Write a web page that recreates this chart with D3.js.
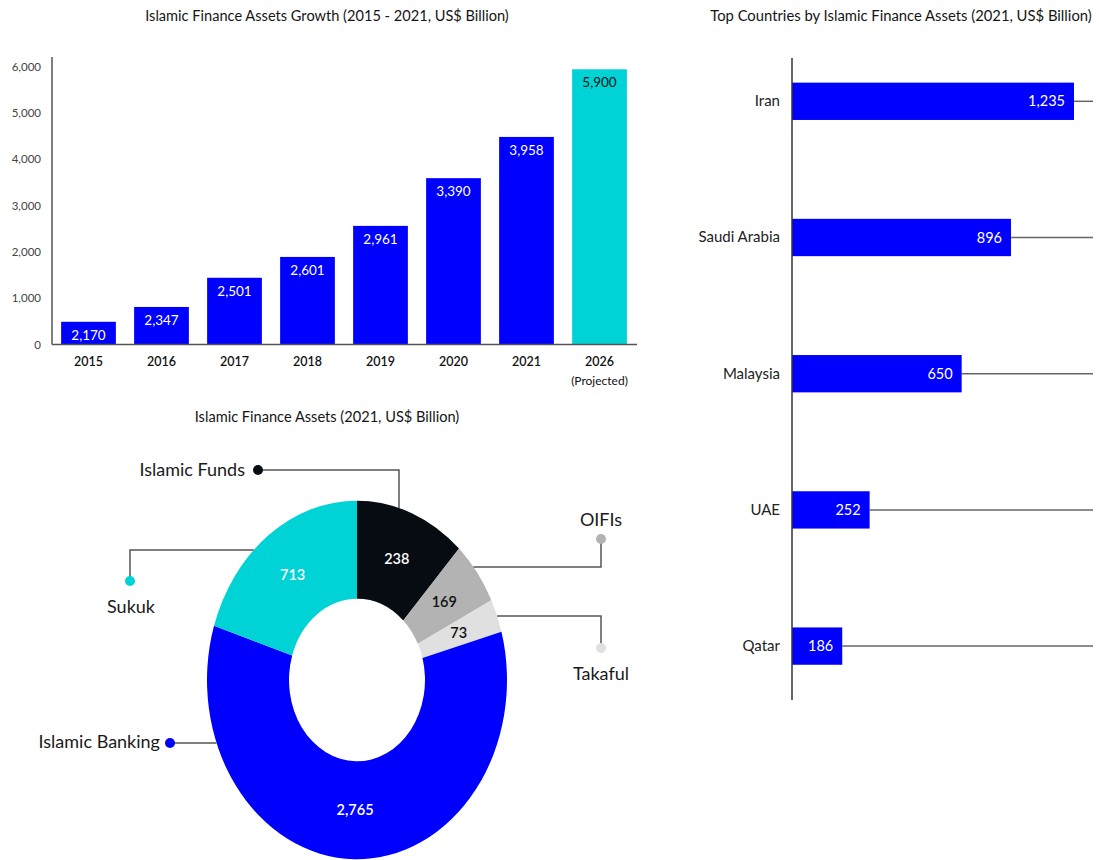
<!DOCTYPE html>
<html>
<head>
<meta charset="utf-8">
<script src="https://cdn.jsdelivr.net/npm/d3@7"></script>
<style>
    body { margin: 0; background: #fff; }
    svg { display: block; font-family: Lato, "Open Sans", sans-serif; }
</style>
</head>
<body>
<div id="frame"></div>
<script>
//growth chart data
let years = ['2015', '2016', '2017', '2018', '2019', '2020', '2021', '2026'];
let growthLabels = [2170, 2347, 2501, 2601, 2961, 3390, 3958, 5900];
// bar heights as they are drawn in the picture
let growthBars = [490, 810, 1440, 1890, 2560, 3590, 4480, 5940];
let yTicks = [0, 1000, 2000, 3000, 4000, 5000, 6000];

//donut data
let segments = ['Islamic Funds', 'OIFIs', 'Takaful', 'Islamic Banking', 'Sukuk'];
let segmentLabels = [238, 169, 73, 2765, 713];
// share of the ring (%) as drawn
let segmentShares = [11.9, 5.75, 3.0, 59.2, 20.1];
let segmentColors = ['#070b12', '#b3b3b3', '#e0e0e0', '#0000ff', '#00d3d6'];

//countries data
let countries = ['Iran', 'Saudi Arabia', 'Malaysia', 'UAE', 'Qatar'];
let countryLabels = [1235, 896, 650, 252, 186];
// bar lengths as drawn
let countryBars = [1235, 959, 743, 340, 220];

let blue = '#0000ff', cyan = '#00d3d6', axisColor = '#555';
let fmt = d3.format(',');

let svg = d3.select('#frame')
    .append('svg')
    .attr('width', 1099)
    .attr('height', 860);

// ---------- growth bars ----------
let x = d3.scaleBand()
    .domain(years)
    .range([52, 636])
    .paddingInner(0.25)
    .paddingOuter(0.125);

let y = d3.scaleLinear()
    .domain([0, 6000])
    .range([344.5, 66.5]);

svg.append('text')
    .attr('x', 327)
    .attr('y', 21)
    .attr('text-anchor', 'middle')
    .style('font-size', '14.6px')
    .style('fill', '#151515')
    .text('Islamic Finance Assets Growth (2015 - 2021, US$ Billion)');

svg.append('g')
    .selectAll('rect')
    .data(years)
    .enter()
    .append('rect')
    .attr('x', d => x(d))
    .attr('y', (d, i) => y(growthBars[i]))
    .attr('width', x.bandwidth())
    .attr('height', (d, i) => y(0) - y(growthBars[i]))
    .style('fill', (d, i) => i == years.length - 1 ? cyan : blue);

svg.append('g')
    .selectAll('text')
    .data(years)
    .enter()
    .append('text')
    .attr('x', d => x(d) + x.bandwidth() / 2)
    .attr('y', (d, i) => y(growthBars[i]) + 13)
    .attr('dy', '0.35em')
    .attr('text-anchor', 'middle')
    .style('font-size', '13.5px')
    .style('fill', (d, i) => i == years.length - 1 ? '#111' : '#fff')
    .text((d, i) => fmt(growthLabels[i]));

//y axis
let yAxis = svg.append('g')
    .attr('transform', 'translate(52,0)')
    .call(d3.axisLeft(y).tickValues(yTicks).tickSize(0).tickPadding(11).tickFormat(fmt));
yAxis.select('.domain').remove();
yAxis.selectAll('text')
    .style('font-family', 'Lato, sans-serif')
    .style('font-size', '11.5px')
    .style('fill', '#444');

svg.append('line')
    .attr('x1', 52).attr('x2', 52)
    .attr('y1', 57).attr('y2', y(0))
    .style('stroke', axisColor)
    .style('stroke-width', 1.5);

//x axis
let xAxis = svg.append('g')
    .attr('transform', 'translate(0,' + y(0) + ')')
    .call(d3.axisBottom(x).tickSize(0).tickPadding(13));
xAxis.select('.domain')
    .attr('d', 'M52,0H637')
    .style('stroke', axisColor)
    .style('stroke-width', 1.5);
xAxis.selectAll('text')
    .style('font-family', 'Lato, sans-serif')
    .style('font-size', '12.5px')
    .style('font-weight', 600)
    .style('fill', '#111');

svg.append('text')
    .attr('x', x('2026') + x.bandwidth() / 2)
    .attr('y', 385)
    .attr('text-anchor', 'middle')
    .style('font-size', '12px')
    .style('fill', '#111')
    .text('(Projected)');

// ---------- donut ----------
svg.append('text')
    .attr('x', 327)
    .attr('y', 422)
    .attr('text-anchor', 'middle')
    .style('font-size', '14.6px')
    .style('fill', '#151515')
    .text('Islamic Finance Assets (2021, US$ Billion)');

let cx = 357, cy = 680, sy = 1.195, rIn = 68, rOut = 150;
let pie = d3.pie().sort(null).value(d => d);
let arc = d3.arc().innerRadius(rIn).outerRadius(rOut);
let arcs = pie(segmentShares);

svg.append('g')
    .attr('transform', 'translate(' + cx + ',' + cy + ') scale(1,' + sy + ')')
    .selectAll('path')
    .data(arcs)
    .enter()
    .append('path')
    .attr('d', arc)
    .style('fill', (d, i) => segmentColors[i]);

svg.append('g')
    .selectAll('text')
    .data(arcs)
    .enter()
    .append('text')
    .attr('x', d => cx + arc.centroid(d)[0])
    .attr('y', d => cy + arc.centroid(d)[1] * sy)
    .attr('dy', '0.35em')
    .attr('text-anchor', 'middle')
    .style('font-size', '14.5px')
    .style('font-weight', 600)
    .style('fill', (d, i) => (i == 1 || i == 2) ? '#111' : '#fff')
    .text((d, i) => fmt(segmentLabels[i]));

//points on the ring edge for leader lines
let edgeX = (yy, side) => cx + side * Math.sqrt(rOut * rOut - Math.pow((yy - cy) / sy, 2));
let edgeY = xx => cy - sy * Math.sqrt(rOut * rOut - Math.pow(xx - cx, 2));

let leaders = [
    { path: [[258, 470], [399, 470], [399, edgeY(399)]], dot: [258, 470], text: [245, 470], anchor: 'end' },
    { path: [[601, 539], [601, 567], [edgeX(567, 1), 567]], dot: [601, 539], text: [601, 520], anchor: 'middle' },
    { path: [[601, 648], [601, 616], [edgeX(616, 1), 616]], dot: [601, 648], text: [601, 674], anchor: 'middle' },
    { path: [[170, 743], [edgeX(743, -1), 743]], dot: [170, 743], text: [160, 742], anchor: 'end' },
    { path: [[130, 581], [130, 550], [edgeX(550, -1), 550]], dot: [130, 581], text: [131, 607], anchor: 'middle' }
];

let leaderG = svg.append('g');
leaderG.selectAll('path')
    .data(leaders)
    .enter()
    .append('path')
    .attr('d', d => d3.line()(d.path))
    .style('fill', 'none')
    .style('stroke', axisColor)
    .style('stroke-width', 1.5);

leaderG.selectAll('circle')
    .data(leaders)
    .enter()
    .append('circle')
    .attr('cx', d => d.dot[0])
    .attr('cy', d => d.dot[1])
    .attr('r', 5)
    .style('fill', (d, i) => segmentColors[i]);

leaderG.selectAll('text')
    .data(leaders)
    .enter()
    .append('text')
    .attr('x', d => d.text[0])
    .attr('y', d => d.text[1])
    .attr('dy', '0.35em')
    .attr('text-anchor', d => d.anchor)
    .style('font-size', '18px')
    .style('fill', '#1a1a1a')
    .text((d, i) => segments[i]);

// ---------- countries ----------
svg.append('text')
    .attr('x', 901)
    .attr('y', 21)
    .attr('text-anchor', 'middle')
    .style('font-size', '14.8px')
    .style('fill', '#151515')
    .text('Top Countries by Islamic Finance Assets (2021, US$ Billion)');

let yc = d3.scaleBand()
    .domain(countries)
    .range([33.2, 714.2])
    .paddingInner(0.726)
    .paddingOuter(0.363);

let xc = d3.scaleLinear()
    .domain([0, 1235])
    .range([792, 1074]);

//track lines behind bars
svg.append('g')
    .selectAll('line')
    .data(countries)
    .enter()
    .append('line')
    .attr('x1', (d, i) => xc(countryBars[i]))
    .attr('x2', 1093)
    .attr('y1', d => yc(d) + yc.bandwidth() / 2)
    .attr('y2', d => yc(d) + yc.bandwidth() / 2)
    .style('stroke', '#666')
    .style('stroke-width', 1.5);

svg.append('g')
    .selectAll('rect')
    .data(countries)
    .enter()
    .append('rect')
    .attr('x', xc(0))
    .attr('y', d => yc(d))
    .attr('width', (d, i) => xc(countryBars[i]) - xc(0))
    .attr('height', yc.bandwidth())
    .style('fill', blue);

svg.append('g')
    .selectAll('text')
    .data(countries)
    .enter()
    .append('text')
    .attr('x', (d, i) => xc(countryBars[i]) - 9)
    .attr('y', d => yc(d) + yc.bandwidth() / 2)
    .attr('dy', '0.35em')
    .attr('text-anchor', 'end')
    .style('font-size', '14.5px')
    .style('fill', '#fff')
    .text((d, i) => fmt(countryLabels[i]));

let cAxis = svg.append('g')
    .attr('transform', 'translate(792,0)')
    .call(d3.axisLeft(yc).tickSize(0).tickPadding(12));
cAxis.select('.domain').remove();
cAxis.selectAll('text')
    .style('font-family', 'Lato, sans-serif')
    .style('font-size', '15px')
    .style('fill', '#222');

svg.append('line')
    .attr('x1', 792).attr('x2', 792)
    .attr('y1', 58).attr('y2', 700)
    .style('stroke', '#333')
    .style('stroke-width', 1.5);
</script>
</body>
</html>
